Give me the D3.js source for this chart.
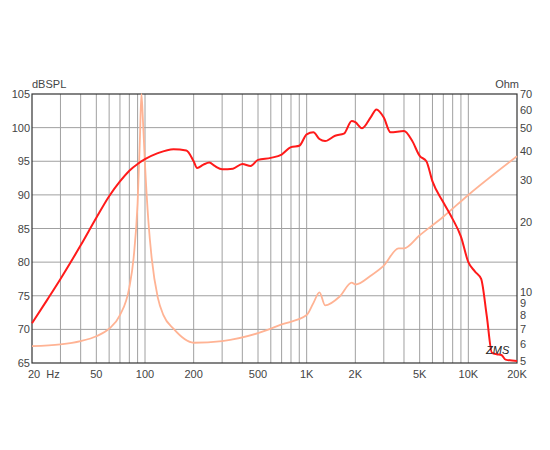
<!DOCTYPE html>
<html><head><meta charset="utf-8">
<script src="https://cdn.jsdelivr.net/npm/d3@7"></script>
<style>body{margin:0;background:#fff}text{font-family:"Liberation Sans",Arial,sans-serif}</style>
</head><body>
<script>
// SPL response (Hz, dB)
const splFreq = [20,25,30,40,50,60,70,80,90,100,120,150,180,200,210,230,250,270,300,350,400,450,500,600,700,800,900,1000,1100,1200,1300,1500,1700,1900,2000,2200,2500,2700,3000,3300,4000,4500,5000,5500,6000,7000,8000,9000,10000,11000,12000,13000,14000,15000,16000,17000,20000];
const splDb   = [70.9,74.5,77.5,82.5,86.6,89.8,92,93.6,94.6,95.3,96.2,96.8,96.6,95,94,94.5,94.8,94.3,93.8,93.9,94.6,94.3,95.2,95.5,96,97.1,97.3,99,99.3,98.3,98,98.8,99.1,101,100.8,99.9,101.6,102.7,101.5,99.3,99.5,98,95.8,95,92,88.9,86.4,83.8,80,78.6,77.5,72,66.5,66.3,66.2,65.5,65.3];
// impedance (Hz, Ohm)
const zFreq = [20,30,40,50,60,70,80,85,90,93,95,97,100,105,110,120,130,150,200,300,500,700,1000,1100,1200,1300,1600,1900,2000,2500,3000,3700,4000,5000,7000,10000,20000];
const zOhm  = [5.9,6,6.2,6.5,7,8,10.5,14,24,45,70,55,35,20,14,9.5,8,7,6.1,6.2,6.7,7.3,8,9,10,8.8,9.6,11,10.8,11.8,13,15.4,15.4,17.5,21,26,38];
const dbTicks = [65,70,75,80,85,90,95,100,105];
const fTicks = [20,50,100,200,500,1000,2000,5000,10000,20000];
const fLabels = ["20  Hz","50","100","200","500","1K","2K","5K","10K","20K"];
const zTicks = [5,6,7,8,9,10,20,30,40,50,60,70];

const W=550,H=450, L=32,R=517,T=94,B=363;
const svg=d3.select("body").append("svg").attr("width",W).attr("height",H);
const x=d3.scaleLog().domain([20,20000]).range([L,R]);
const y=d3.scaleLinear().domain([65,105]).range([B,T]);
const yz=d3.scaleLog().domain([5,70]).range([B,T]);

const grid=[];
[10,100,1000,10000].forEach(d=>{for(let k=1;k<10;k++){const f=d*k; if(f>20&&f<20000) grid.push(f);}});
svg.selectAll(".vg").data(grid).enter().append("line")
  .attr("x1",d=>x(d)).attr("x2",d=>x(d)).attr("y1",T).attr("y2",B)
  .attr("stroke","#a0a0a0").attr("stroke-width",1);
svg.selectAll(".hg").data(dbTicks.slice(1,-1)).enter().append("line")
  .attr("x1",L).attr("x2",R).attr("y1",d=>y(d)).attr("y2",d=>y(d))
  .attr("stroke","#a0a0a0").attr("stroke-width",1);
svg.append("rect").attr("x",L).attr("y",T).attr("width",R-L).attr("height",B-T)
  .attr("fill","none").attr("stroke","#333").attr("stroke-width",1.2);

svg.selectAll(".yl").data(dbTicks).enter().append("text")
  .attr("x",L-2).attr("y",d=>y(d)+4).attr("text-anchor","end").attr("font-size",11).attr("fill","#444").text(d=>d);
svg.selectAll(".zl").data(zTicks).enter().append("text")
  .attr("x",R+3).attr("y",d=>yz(d)+(d==5?2:4)).attr("font-size",11).attr("fill","#444").text(d=>d);
svg.selectAll(".xl").data(fTicks).enter().append("text")
  .attr("x",(d,i)=>i==0?x(d)-4:x(d)).attr("y",B+15).attr("text-anchor",(d,i)=>i==0?"start":"middle")
  .attr("font-size",11).attr("fill","#444").attr("xml:space","preserve").text((d,i)=>fLabels[i]);
svg.append("text").attr("x",L).attr("y",T-6).attr("font-size",11).attr("fill","#444").text("dBSPL");
svg.append("text").attr("x",R+2).attr("y",T-6).attr("text-anchor","end").attr("font-size",11).attr("fill","#444").text("Ohm");

const zl=d3.line().x(d=>x(d[0])).y(d=>yz(d[1])).curve(d3.curveMonotoneX);
svg.append("path").attr("d",zl(zFreq.map((f,i)=>[f,zOhm[i]]))).attr("fill","none").attr("stroke","#ffb394").attr("stroke-width",1.8);
const sl=d3.line().x(d=>x(d[0])).y(d=>y(d[1])).curve(d3.curveMonotoneX);
svg.append("path").attr("d",sl(splFreq.map((f,i)=>[f,splDb[i]]))).attr("fill","none").attr("stroke","#ff1a1a").attr("stroke-width",2);

svg.append("text").attr("x",486).attr("y",354).attr("font-size",11).attr("font-style","italic").attr("fill","#222").text("ZMS");
</script>
</body></html>
